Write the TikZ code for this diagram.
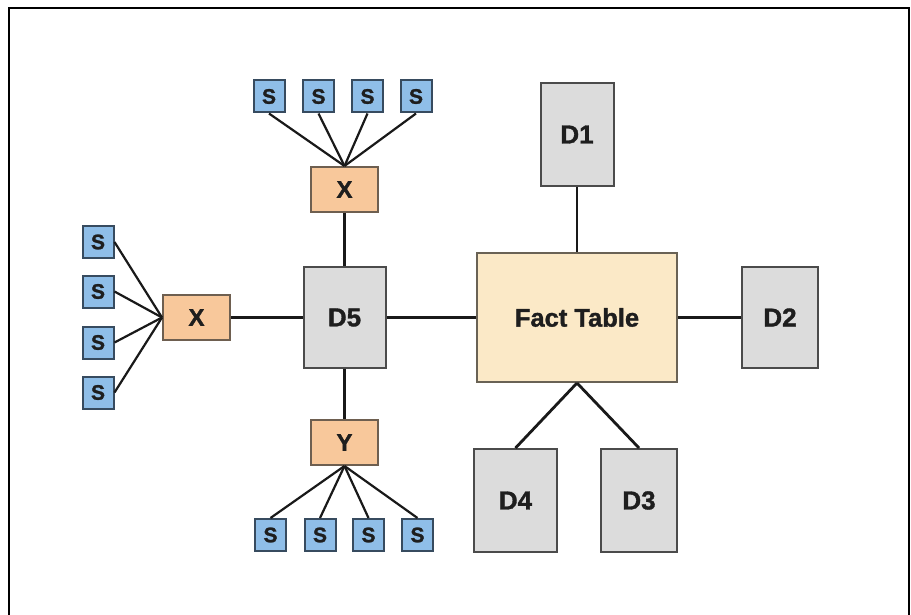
\documentclass[tikz,border=0pt]{standalone}
\usepackage{fontspec}
\setmainfont{Liberation Sans}
\newfontfamily\heavy{Liberation Sans Bold}[FakeBold=1.3]
\definecolor{sfill}{RGB}{143,190,232}
\definecolor{sdraw}{RGB}{55,75,95}
\definecolor{pfill}{RGB}{248,200,155}
\definecolor{pdraw}{RGB}{110,95,80}
\definecolor{gfill}{RGB}{220,220,220}
\definecolor{gdraw}{RGB}{75,75,75}
\definecolor{ffill}{RGB}{251,233,199}
\definecolor{fdraw}{RGB}{105,98,85}
\definecolor{txt}{RGB}{30,30,30}
\begin{document}
\begin{tikzpicture}[x=1pt,y=-1pt,
  box/.style={draw, line width=2pt, inner sep=0pt, text=txt},
  sbox/.style={box, fill=sfill, draw=sdraw, minimum width=31pt, minimum height=32pt,
    font=\heavy\fontsize{21}{21}\selectfont},
  pbox/.style={box, fill=pfill, draw=pdraw, minimum width=67pt, minimum height=45pt,
    font=\heavy\fontsize{24}{24}\selectfont},
  gbox/.style={box, fill=gfill, draw=gdraw, font=\heavy\fontsize{26}{26}\selectfont},
  fbox/.style={box, fill=ffill, draw=fdraw, minimum width=200pt, minimum height=129pt,
    font=\heavy\fontsize{25.5}{25.5}\selectfont},
  link/.style={line width=2.8pt, draw=black!90},
  slink/.style={line width=2.2pt, draw=black!90}]
\useasboundingbox (0,0) rectangle (911,615);
\draw[line width=1.6pt] (9,615) -- (9,8) -- (909,8) -- (909,615);

% main nodes
\node[fbox] (fact) at (577,317.5) {Fact Table};
\node[gbox, minimum width=73pt, minimum height=103pt] (d1) at (577,134.5) {D1};
\node[gbox, minimum width=76pt, minimum height=101pt] (d2) at (780,317.5) {D2};
\node[gbox, minimum width=76pt, minimum height=103pt] (d3) at (639,500.5) {D3};
\node[gbox, minimum width=83pt, minimum height=103pt] (d4) at (515.5,500.5) {D4};
\node[gbox, minimum width=82pt, minimum height=101pt] (d5) at (344.5,317.5) {D5};

\node[pbox] (xt) at (344.5,189.5) {X};
\node[pbox] (xl) at (196.5,317.5) {X};
\node[pbox] (y) at (344.5,442.5) {Y};

% S nodes top
\node[sbox] (st1) at (269,96.5) {S};
\node[sbox] (st2) at (318.5,96.5) {S};
\node[sbox] (st3) at (367.5,96.5) {S};
\node[sbox] (st4) at (416,96.5) {S};
% S nodes left
\node[sbox] (sl1) at (98,242) {S};
\node[sbox] (sl2) at (98,291.5) {S};
\node[sbox] (sl3) at (98,342.5) {S};
\node[sbox] (sl4) at (98,392.5) {S};
% S nodes bottom
\node[sbox] (sb1) at (270.5,535) {S};
\node[sbox] (sb2) at (320,535) {S};
\node[sbox] (sb3) at (368.5,535) {S};
\node[sbox] (sb4) at (417.5,535) {S};

% connectors
\draw[link] (d1) -- (fact);
\draw[link] (fact) -- (d2);
\draw[link] (fact.south) -- (d4.north);
\draw[link] (fact.south) -- (d3.north);
\draw[link] (d5) -- (fact);
\draw[link] (xl) -- (d5);
\draw[link] (xt) -- (d5);
\draw[link] (d5) -- (y);
\foreach \i in {1,...,4} {
  \draw[slink] (st\i.south) -- (xt.north);
  \draw[slink] (sl\i.east) -- (xl.west);
  \draw[slink] (sb\i.north) -- (y.south);
}
\end{tikzpicture}
\end{document}
